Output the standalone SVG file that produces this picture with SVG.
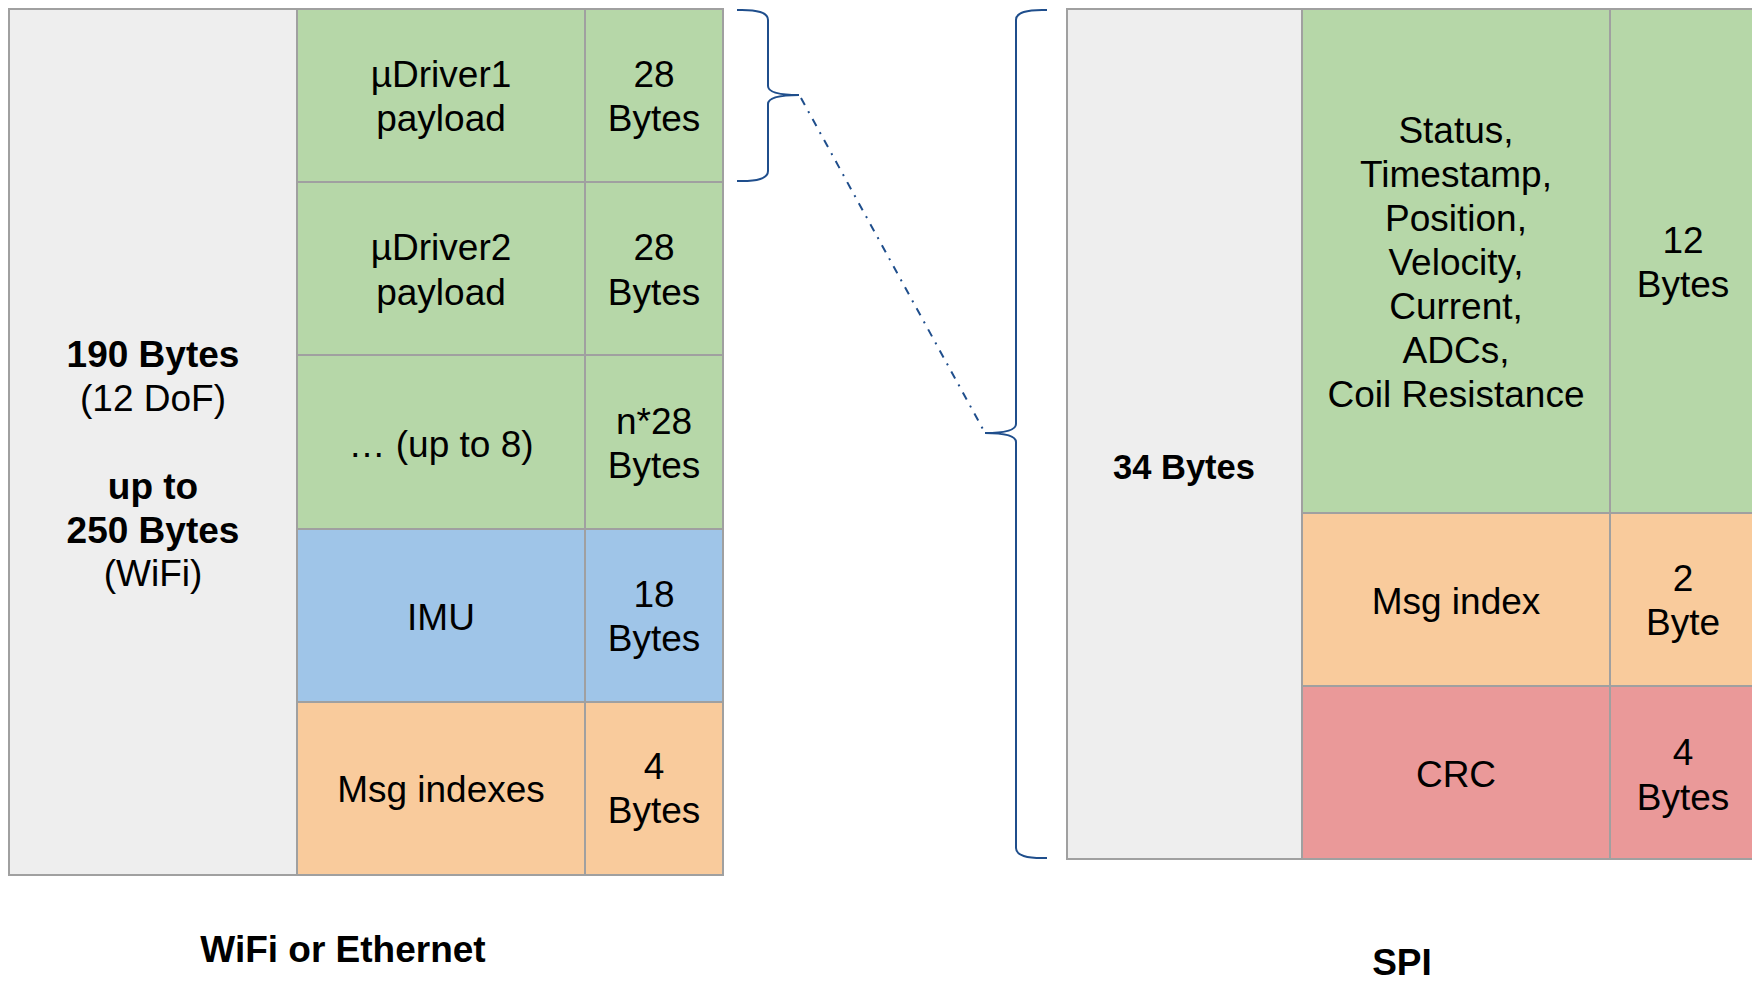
<svg xmlns="http://www.w3.org/2000/svg" width="1752" height="984" viewBox="0 0 1752 984">
<style>
.c{stroke:#a0a0a0;stroke-width:2}
.g{fill:#eeeeee}.gr{fill:#b6d7a8}.bl{fill:#9fc5e8}.or{fill:#f9cb9c}.rd{fill:#ea9999}
text{font-family:"Liberation Sans",Arial,sans-serif;font-size:37px;fill:#000;text-anchor:middle}
.b{font-weight:bold}
.br{fill:none;stroke:#1f4e8c;stroke-width:2}
</style>
<rect width="1752" height="984" fill="#ffffff"/>
<g id="wifi-frame">
<g id="wifi-total"><rect class="c g" x="9" y="9" width="288" height="866"/>
<text x="153" y="367" class="b">190 Bytes</text>
<text x="153" y="411">(12 DoF)</text>
<text x="153" y="499" class="b">up to</text>
<text x="153" y="543" class="b">250 Bytes</text>
<text x="153" y="586">(WiFi)</text></g>
<g id="udriver1"><rect class="c gr" x="297" y="9" width="288" height="173"/><rect class="c gr" x="585" y="9" width="138" height="173"/>
<text x="441" y="87">µDriver1</text><text x="441" y="131">payload</text>
<text x="654" y="87">28</text><text x="654" y="131">Bytes</text></g>
<g id="udriver2"><rect class="c gr" x="297" y="182" width="288" height="173"/><rect class="c gr" x="585" y="182" width="138" height="173"/>
<text x="441" y="260">µDriver2</text><text x="441" y="305">payload</text>
<text x="654" y="260">28</text><text x="654" y="305">Bytes</text></g>
<g id="upto8"><rect class="c gr" x="297" y="355" width="288" height="174"/><rect class="c gr" x="585" y="355" width="138" height="174"/>
<text x="441" y="457">… (up to 8)</text>
<text x="654" y="434">n*28</text><text x="654" y="478">Bytes</text></g>
<g id="imu"><rect class="c bl" x="297" y="529" width="288" height="173"/><rect class="c bl" x="585" y="529" width="138" height="173"/>
<text x="441" y="630">IMU</text>
<text x="654" y="607">18</text><text x="654" y="651">Bytes</text></g>
<g id="msgidx"><rect class="c or" x="297" y="702" width="288" height="173"/><rect class="c or" x="585" y="702" width="138" height="173"/>
<text x="441" y="802">Msg indexes</text>
<text x="654" y="779">4</text><text x="654" y="823">Bytes</text></g>
<text id="wifi-label" x="343" y="962" class="b">WiFi or Ethernet</text>
</g>
<g id="spi-frame">
<g id="spi-total"><rect class="c g" x="1067" y="9" width="235" height="850"/>
<text x="1184" y="479" class="b" style="font-size:34.5px">34 Bytes</text></g>
<g id="status"><rect class="c gr" x="1302" y="9" width="308" height="504"/><rect class="c gr" x="1610" y="9" width="150" height="504"/>
<text x="1456" y="143">Status,</text>
<text x="1456" y="187">Timestamp,</text>
<text x="1456" y="231">Position,</text>
<text x="1456" y="275">Velocity,</text>
<text x="1456" y="319">Current,</text>
<text x="1456" y="363">ADCs,</text>
<text x="1456" y="407">Coil Resistance</text>
<text x="1683" y="253">12</text><text x="1683" y="297">Bytes</text></g>
<g id="msgindex"><rect class="c or" x="1302" y="513" width="308" height="173"/><rect class="c or" x="1610" y="513" width="150" height="173"/>
<text x="1456" y="614">Msg index</text>
<text x="1683" y="591">2</text><text x="1683" y="635">Byte</text></g>
<g id="crc"><rect class="c rd" x="1302" y="686" width="308" height="173"/><rect class="c rd" x="1610" y="686" width="150" height="173"/>
<text x="1456" y="787">CRC</text>
<text x="1683" y="765">4</text><text x="1683" y="810">Bytes</text></g>
<text id="spi-label" x="1402" y="975" class="b">SPI</text>
</g>
<g id="connectors">
<path class="br" d="M737,10 Q768,9 768,20 L768,86 Q768,95 799,95 Q768,95 768,104 L768,171 Q768,182 737,181"/>
<path class="br" d="M1047,10 Q1016,9 1016,20 L1016,424 Q1016,433 985,433 Q1016,433 1016,442 L1016,848 Q1016,859 1047,858"/>
<path d="M801,98 L984,431" fill="none" stroke="#1f4e8c" stroke-width="2" stroke-dasharray="8,7,2,7"/>
</g>
</svg>
